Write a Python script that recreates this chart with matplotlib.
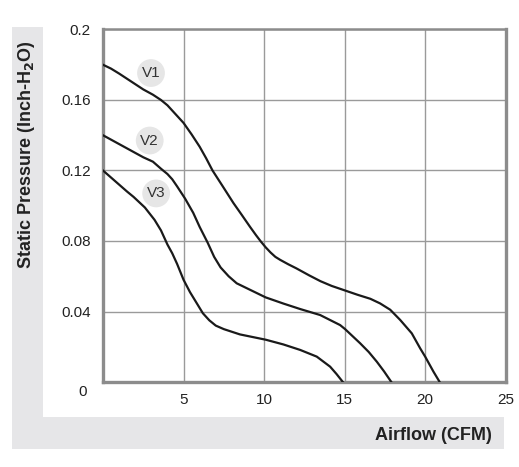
import matplotlib
matplotlib.use("Agg")
import matplotlib.pyplot as plt
import matplotlib.transforms as mtransforms
from matplotlib.patches import Rectangle

plt.rcParams['font.family'] = ['Liberation Sans', 'DejaVu Sans']

# Data
v1_x = [0, 0.5, 1, 1.5, 2, 2.5, 3.1, 3.6, 4, 4.5, 5, 5.5, 6.0, 6.4, 6.8, 7.4, 8.1, 8.6, 9.13,
        9.5, 9.8, 10.1, 10.4, 10.7, 11.0, 11.5, 12.0, 12.8, 13.5, 14.2, 15.0, 15.8, 16.6, 17.2,
        17.83, 18.45, 19.17, 19.69, 20.0, 20.52, 20.9]
v1_y = [0.180, 0.1778, 0.175, 0.172, 0.169, 0.166, 0.163, 0.160, 0.157, 0.152, 0.147, 0.1405,
        0.1335, 0.127, 0.120, 0.1115, 0.1015, 0.095, 0.088, 0.0833, 0.0797, 0.0764, 0.0735,
        0.0710, 0.0693, 0.0668, 0.0645, 0.0605, 0.0572, 0.0545, 0.052, 0.0495, 0.0472, 0.0446,
        0.041, 0.0352, 0.0276, 0.0191, 0.0144, 0.0058, 0.0]

v2_x = [0, 0.5, 1, 1.5, 2, 2.5, 3.1, 3.6, 4, 4.3, 4.6, 5.1, 5.6, 6.0, 6.5, 6.9, 7.3, 7.8, 8.3,
        9.2, 10.1, 11.2, 12.24, 13.48, 14.72, 15.03, 15.96, 16.5, 17.0, 17.45, 17.9]
v2_y = [0.140, 0.1375, 0.135, 0.1325, 0.130, 0.1275, 0.125, 0.121, 0.118, 0.115, 0.111, 0.104,
        0.096, 0.088, 0.079, 0.071, 0.065, 0.060, 0.056, 0.052, 0.048, 0.0445, 0.0414, 0.038,
        0.0323, 0.030, 0.022, 0.017, 0.0115, 0.006, 0.0]

v3_x = [0, 0.5, 1, 1.5, 1.9, 2.6, 3.2, 3.6, 4.0, 4.3, 4.6, 5.0, 5.4, 5.8, 6.2, 6.6, 7.0, 7.5,
        8.5, 9.3, 10.1, 11.2, 12.24, 13.27, 14.1, 14.5, 14.89]
v3_y = [0.120, 0.116, 0.112, 0.108, 0.105, 0.099, 0.092, 0.086, 0.078, 0.073, 0.067, 0.058,
        0.051, 0.045, 0.039, 0.035, 0.032, 0.030, 0.027, 0.0255, 0.024, 0.0213, 0.0182, 0.0144,
        0.0087, 0.0045, 0.0]

series_names = ["V1", "V2", "V3"]
label_x = [2.98, 2.9, 3.3]
label_y = [0.1753, 0.137, 0.107]

x_ticks = [5, 10, 15, 20, 25]
y_ticks = [0, 0.04, 0.08, 0.12, 0.16, 0.2]
y_tick_labels = ["0", "0.04", "0.08", "0.12", "0.16", "0.2"]

W, H = 519, 467
fig = plt.figure(figsize=(W / 100, H / 100), dpi=100)

band = '#e6e6e8'
fig.patches.append(Rectangle((12 / W, 18 / H), 31 / W, 422 / H, transform=fig.transFigure,
                             facecolor=band, edgecolor='none', zorder=0))
fig.patches.append(Rectangle((12 / W, 18 / H), 492 / W, 32 / H, transform=fig.transFigure,
                             facecolor=band, edgecolor='none', zorder=0))

ax = fig.add_axes([103 / W, 1 - 382 / H, (505.7 - 103) / W, (382 - 29.5) / H])
ax.set_xlim(0, 25)
ax.set_ylim(0, 0.2)
ax.set_xticks(x_ticks)
ax.set_xticklabels([str(t) for t in x_ticks])
ax.set_yticks(y_ticks)
ax.set_yticklabels(y_tick_labels)
ax.tick_params(length=0, labelsize=11, colors='#222222')
ax.tick_params(axis='y', pad=9)
ax.tick_params(axis='x', pad=8)
ax.grid(True, color='#9a9a9a', linewidth=1.0)
ax.set_axisbelow(True)

for s in ['left', 'bottom', 'right']:
    ax.spines[s].set_color('#8c8c8c')
    ax.spines[s].set_linewidth(2.4)
ax.spines['top'].set_color('#8c8c8c')
ax.spines['top'].set_linewidth(1.8)

for xs, ys in [(v1_x, v1_y), (v2_x, v2_y), (v3_x, v3_y)]:
    ax.plot(xs, ys, color='#1a1a1a', linewidth=1.6, zorder=3, solid_joinstyle='round')

ax.scatter(label_x, label_y, s=400, color='#e6e6e6', edgecolors='none', zorder=2)
for name, lx, ly in zip(series_names, label_x, label_y):
    ax.text(lx, ly, name, ha='center', va='center', fontsize=11, color='#333333', zorder=4)

# shift the "0" label down like in the reference
zero_lbl = ax.get_yticklabels()[0]
zero_lbl.set_transform(zero_lbl.get_transform() + mtransforms.ScaledTranslation(-4 / 100, -8 / 100, fig.dpi_scale_trans))

fig.text(27 / W, 1 - 155 / H, 'Static Pressure (Inch-H$_\\mathbf{2}$O)', rotation=90, ha='center', va='center',
         fontsize=13, fontweight='bold', color='#222222')
fig.text(492 / W, 1 - 436 / H, 'Airflow (CFM)', ha='right', va='center',
         fontsize=13, fontweight='bold', color='#222222')

fig.savefig('out.png', dpi=100)
